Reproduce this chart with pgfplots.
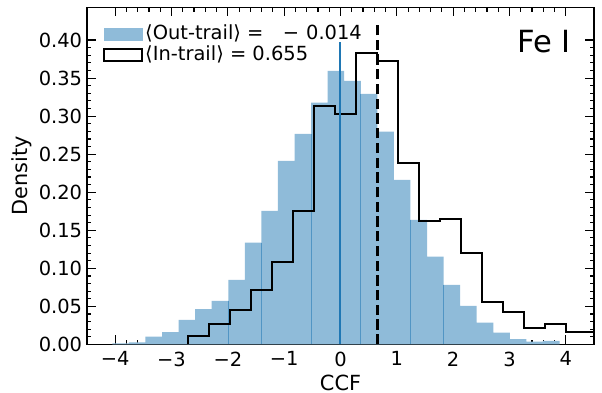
\documentclass[border=0pt]{standalone}
\usepackage{fontspec}
\setmainfont{DejaVu Sans}
\usepackage{pgfplots}
\pgfplotsset{compat=1.18}
\definecolor{cz}{HTML}{1F77B4}
\definecolor{fillc}{HTML}{8FBBD9}
\begin{document}
\begin{tikzpicture}
\begin{axis}[
  scale only axis, width=365.04pt, height=242.78pt,
  xmin=-4.5, xmax=4.5, ymin=0, ymax=0.443,
  axis line style={line width=0.9pt},
  tick align=inside, xtick pos=both, ytick pos=both,
  xticklabel pos=lower, yticklabel pos=left,
  major tick length=6.5pt, minor tick length=3.1pt,
  every tick/.style={black, line width=0.8pt},
  xtick={-4,-3,-2,-1,0,1,2,3,4},
  xticklabels={−4,−3,−2,−1,0,1,2,3,4},
  minor x tick num=4,
  ytick={0,0.05,0.10,0.15,0.20,0.25,0.30,0.35,0.40},
  yticklabels={0.00,0.05,0.10,0.15,0.20,0.25,0.30,0.35,0.40},
  minor y tick num=4,
  ticklabel style={font=\fontsize{14}{16}\selectfont},
  xticklabel style={yshift=-1.6pt},
  xlabel={CCF}, ylabel={Density},
  label style={font=\fontsize{15}{18}\selectfont},
  xlabel style={at={(axis description cs:0.5,-0.1351)}, anchor=base},
  ylabel style={at={(axis description cs:-0.117,0.5)}, anchor=base, rotate=0},
  legend style={draw=none, fill=none, inner sep=0pt, outer sep=0pt,
    at={(axis description cs:0.0316,0.948)}, anchor=north west,
    row sep=2.6pt, column sep=0pt,
    font=\fontsize{14}{16}\selectfont,
    nodes={inner sep=0pt, outer sep=0pt, anchor=base west}},
  legend cell align=left,
]
% Out-trail histogram (filled)
\addplot[fill=fillc, draw=none, const plot, forget plot] coordinates {
(-4.050,0.0016) (-3.756,0.0029) (-3.462,0.0102) (-3.168,0.0164)
(-2.874,0.0322) (-2.580,0.0466) (-2.286,0.0572) (-1.992,0.0848)
(-1.698,0.1338) (-1.404,0.1754) (-1.110,0.2411) (-0.816,0.2766)
(-0.522,0.3177) (-0.228,0.3594) (0.066,0.3463) (0.360,0.3292)
(0.654,0.2796) (0.948,0.2162) (1.242,0.1636) (1.536,0.1154)
(1.830,0.0782) (2.124,0.0506) (2.418,0.0286) (2.712,0.0155)
(3.006,0.0072) (3.300,0.0037) (3.594,0.0046) (3.888,0.0046)
} \closedcycle;
% faint internal bar edges
\addplot[ycomb, draw=cz, line width=0.5pt, opacity=0.55, forget plot] coordinates {
(-1.992,0.0572) (-1.404,0.1338) (-0.522,0.2766) (0.360,0.3292) (1.242,0.1636) (1.830,0.0782)
};
% In-trail histogram (step)
\addplot[black, line width=1.5pt, const plot, forget plot] coordinates {
(-2.710,0) (-2.710,0.0112) (-2.337,0.0269) (-1.965,0.0453) (-1.592,0.0716)
(-1.220,0.1088) (-0.847,0.1754) (-0.474,0.3134) (-0.102,0.3029)
(0.271,0.3834) (0.643,0.3721) (1.016,0.2389) (1.389,0.1623)
(1.761,0.1649) (2.134,0.1198) (2.506,0.0562) (2.879,0.0423)
(3.252,0.0213) (3.624,0.0265) (3.997,0.0160) (4.700,0.0160)
};
% means
\addplot[cz, line width=1.5pt, forget plot] coordinates {(-0.014,0) (-0.014,0.397)};
\addplot[black, line width=2pt, dash pattern=on 7.4pt off 3.2pt, forget plot] coordinates {(0.655,0) (0.655,0.421)};
\addlegendimage{legend image code/.code={\fill[fillc] (0pt,-0.7pt) rectangle (27.4pt,7.9pt);}}
\addlegendentry{\hspace{1.5pt}⟨Out-trail⟩ =\hspace{14pt}−\hspace{5pt}0.014}
\addlegendimage{legend image code/.code={\draw[black, line width=1.5pt] (0pt,-0.7pt) rectangle (27.4pt,7.9pt);}}
\addlegendentry{\hspace{1.5pt}⟨In-trail⟩ = 0.655}
\node[anchor=base east, inner sep=0pt, font=\fontsize{22}{26}\selectfont] at (rel axis cs:0.9547,0.8666) {Fe I};
\end{axis}
\pgfresetboundingbox
\path[use as bounding box] (-62.64pt,-34.92pt) rectangle (370.8pt,248.04pt);
\end{tikzpicture}
\end{document}
